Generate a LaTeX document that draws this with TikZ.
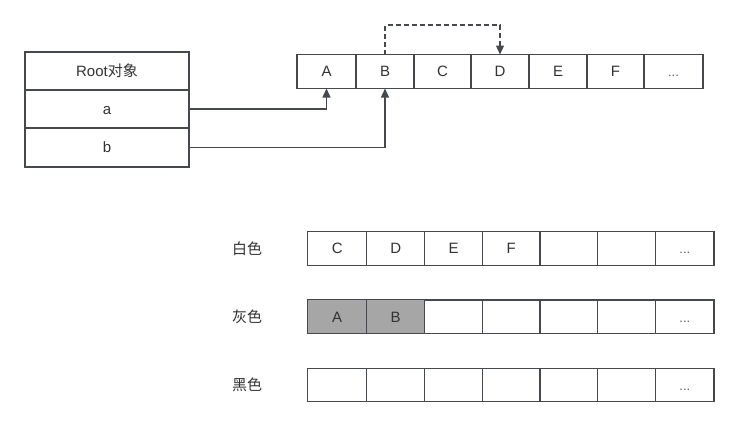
\documentclass[tikz,border=0pt]{standalone}
\usepackage{fontspec}
\setmainfont{Liberation Sans}
\newfontfamily\cjk{Noto Sans CJK SC}
\usetikzlibrary{arrows.meta}
\definecolor{linec}{HTML}{45494D}
\definecolor{textc}{HTML}{333333}
\definecolor{grayfill}{HTML}{A6A6A6}
\tikzset{
  cell/.style={draw=linec, line width=1.3pt, fill=white, inner sep=0pt, outer sep=0pt,
    minimum height=#1, text=textc, font=\fontsize{15}{17}\selectfont,
    text height=10.7pt, text depth=0pt},
  cell/.default=34pt,
  gcell/.style={cell, fill=grayfill},
  lbl/.style={text=textc, font=\cjk\fontsize{15}{17}\selectfont, inner sep=0pt},
  conn/.style={draw=linec, line width=1.3pt, -{Triangle[length=9pt,width=8pt]}},
  dconn/.style={conn, dash pattern=on 5pt off 3pt},
}
\newcommand{\dotsx}{{\fontsize{13}{15}\selectfont\color{textc!80}...}}
\begin{document}
\begin{tikzpicture}[x=1pt,y=-1pt]
\useasboundingbox (0,0) rectangle (739,429);
% Root table
\node[cell=38pt, minimum width=164pt] (root) at (107,71) {Root{\cjk 对象}};
\node[cell=38pt, minimum width=164pt] (ra) at (107,109) {a};
\node[cell=39pt, minimum width=164pt] (rb) at (107,147.5) {b};
% top array
\node[cell, minimum width=59pt] (tA) at (326.5,71.5) {A};
\node[cell, minimum width=58pt] (tB) at (385,71.5) {B};
\node[cell, minimum width=57pt] (tC) at (442.5,71.5) {C};
\node[cell, minimum width=58pt] (tD) at (500,71.5) {D};
\node[cell, minimum width=58pt] (tE) at (558,71.5) {E};
\node[cell, minimum width=57pt] (tF) at (615.5,71.5) {F};
\node[cell, minimum width=59pt] (tG) at (673.5,71.5) {\dotsx};
% connectors
\draw[conn] (ra.east) -| (tA.south);
\draw[conn] (rb.east) -| (tB.south);
\draw[dconn] (tB.north) -- ++(0,-29.5) -| (tD.north);
% colour arrays
\node[lbl] (lw) at (247,248.5) {白色};
\node[lbl] (lg) at (247,317) {灰色};
\node[lbl] (lb) at (247,385) {黑色};
\foreach \r/\y in {w/248.5, g/316.8, b/385}{
  \node[cell=33.5pt, minimum width=59pt] (\r1) at (337.2,\y) {};
  \node[cell=33.5pt, minimum width=58pt] (\r2) at (395.7,\y) {};
  \node[cell=33.5pt, minimum width=57.6pt] (\r3) at (453.5,\y) {};
  \node[cell=33.5pt, minimum width=57.7pt] (\r4) at (511.2,\y) {};
  \node[cell=33.5pt, minimum width=57.7pt] (\r5) at (568.9,\y) {};
  \node[cell=33.5pt, minimum width=58pt] (\r6) at (626.7,\y) {};
  \node[cell=33.5pt, minimum width=58.3pt] (\r7) at (684.9,\y) {\dotsx};
}
\node[cell=33.5pt, minimum width=59pt] at (w1) {C};
\node[cell=33.5pt, minimum width=58pt] at (w2) {D};
\node[cell=33.5pt, minimum width=57.6pt] at (w3) {E};
\node[cell=33.5pt, minimum width=57.7pt] at (w4) {F};
\node[gcell=33.5pt, minimum width=59pt] at (g1) {A};
\node[gcell=33.5pt, minimum width=58pt] at (g2) {B};
\end{tikzpicture}
\end{document}
